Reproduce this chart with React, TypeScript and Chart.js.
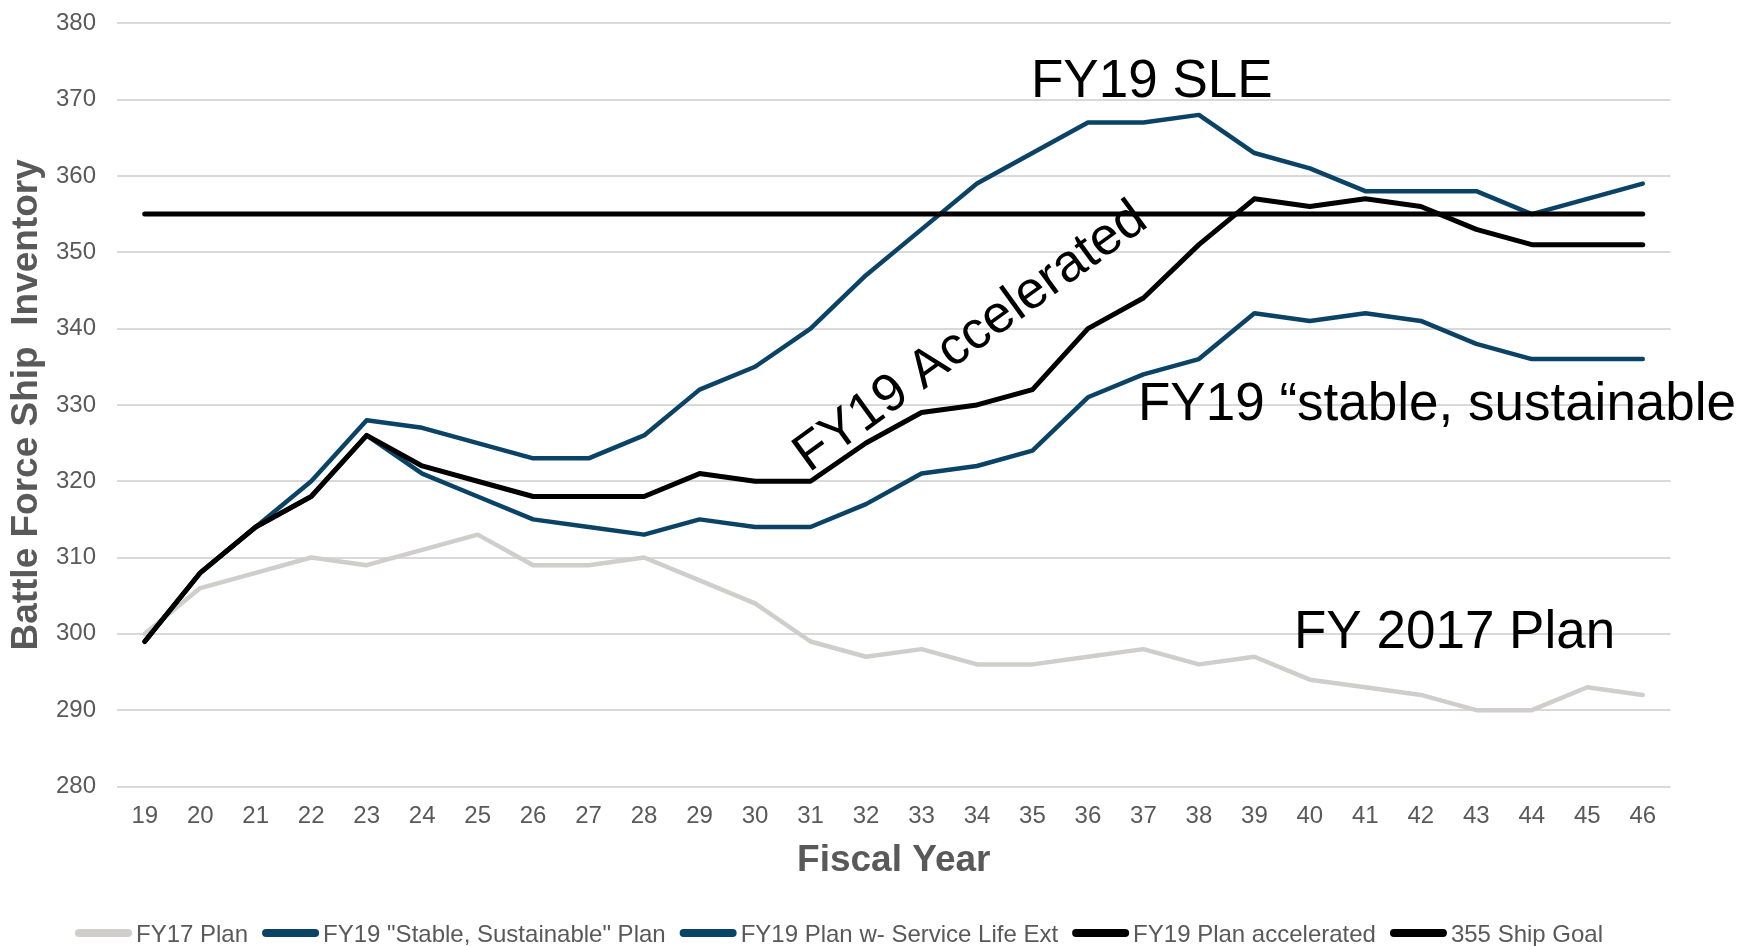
import React, { useEffect, useRef } from "react";
import { Chart, registerables } from "chart.js";

Chart.register(...registerables);

const fiscalYears = ["19", "20", "21", "22", "23", "24", "25", "26", "27", "28", "29", "30", "31", "32", "33", "34", "35", "36", "37", "38", "39", "40", "41", "42", "43", "44", "45", "46"];

const fy17Plan = [300, 306, 308, 310, 309, 311, 313, 309, 309, 310, 307, 304, 299, 297, 298, 296, 296, 297, 298, 296, 297, 294, 293, 292, 290, 290, 293, 292];
const fy19Stable = [299, 308, 314, 318, 326, 321, 318, 315, 314, 313, 315, 314, 314, 317, 321, 322, 324, 331, 334, 336, 342, 341, 342, 341, 338, 336, 336, 336];
const fy19SLE = [299, 308, 314, 320, 328, 327, 325, 323, 323, 326, 332, 335, 340, 347, 353, 359, 363, 367, 367, 368, 363, 361, 358, 358, 358, 355, 357, 359];
const fy19Accelerated = [299, 308, 314, 318, 326, 322, 320, 318, 318, 318, 321, 320, 320, 325, 329, 330, 332, 340, 344, 351, 357, 356, 357, 356, 353, 351, 351, 351];
const goal355 = [355, 355, 355, 355, 355, 355, 355, 355, 355, 355, 355, 355, 355, 355, 355, 355, 355, 355, 355, 355, 355, 355, 355, 355, 355, 355, 355, 355];

const seriesLabels = ["FY17 Plan", "FY19 \"Stable, Sustainable\" Plan", "FY19 Plan w- Service Life Ext", "FY19 Plan accelerated", "355 Ship Goal"];

const FONT = '"Liberation Sans", Arial, sans-serif';
const GREY_TEXT = "#595959";
const BLUE = "#0a4365";

const legendPlugin = {
  id: "customLegend",
  afterDraw(chart: any) {
    const ctx = chart.ctx;
    ctx.save();
    ctx.font = `24px ${FONT}`;
    let x = 75;
    const y = 933;
    chart.data.datasets.forEach((ds: any) => {
      ctx.strokeStyle = ds.borderColor;
      ctx.lineWidth = 8;
      ctx.lineCap = "round";
      ctx.beginPath();
      ctx.moveTo(x + 4, y);
      ctx.lineTo(x + 53, y);
      ctx.stroke();
      ctx.fillStyle = GREY_TEXT;
      ctx.textBaseline = "alphabetic";
      ctx.textAlign = "left";
      ctx.fillText(ds.label, x + 61, 942);
      x += 61 + ctx.measureText(ds.label).width + 14;
    });
    ctx.restore();
  },
};

const annotationPlugin = {
  id: "annotations",
  afterDatasetsDraw(chart: any) {
    const ctx = chart.ctx;
    ctx.save();
    ctx.fillStyle = "#000000";
    ctx.font = `53px ${FONT}`;
    ctx.textAlign = "left";
    ctx.textBaseline = "alphabetic";
    ctx.fillText("FY19 SLE", 1031, 97);
    ctx.fillText("FY 2017 Plan", 1294, 648);
    ctx.fillText("FY19 \u201Cstable, sustainable", 1138, 420);
    ctx.translate(809, 473);
    ctx.rotate((-36 * Math.PI) / 180);
    ctx.fillText("FY19 Accelerated", 0, 0);
    ctx.restore();
  },
};

export default function App() {
  const canvasRef = useRef<HTMLCanvasElement | null>(null);

  useEffect(() => {
    document.body.style.margin = "0";
    const canvas = canvasRef.current;
    if (!canvas) return;
    const lineDs = (label: string, data: number[], color: string, width: number, order: number) => ({
      label,
      data,
      borderColor: color,
      backgroundColor: color,
      borderWidth: width,
      pointRadius: 0,
      tension: 0,
      fill: false,
      borderCapStyle: "round" as const,
      borderJoinStyle: "round" as const,
      order,
    });
    const chart = new Chart(canvas, {
      type: "line",
      data: {
        labels: fiscalYears,
        datasets: [
          lineDs(seriesLabels[0], fy17Plan, "#d0cecb", 4.5, 5),
          lineDs(seriesLabels[1], fy19Stable, BLUE, 4.5, 4),
          lineDs(seriesLabels[2], fy19SLE, BLUE, 4.5, 3),
          lineDs(seriesLabels[3], fy19Accelerated, "#000000", 5, 2),
          lineDs(seriesLabels[4], goal355, "#000000", 5, 1),
        ],
      },
      options: {
        responsive: false,
        animation: false,
        devicePixelRatio: 1,
        layout: { padding: { top: 23.3, right: 73.5, bottom: 0, left: 0 } },
        plugins: {
          legend: { display: false },
          tooltip: { enabled: false },
        },
        scales: {
          x: {
            type: "category",
            offset: true,
            grid: { display: false, drawTicks: false },
            border: { display: false },
            ticks: {
              color: GREY_TEXT,
              font: { family: FONT, size: 24 },
              padding: 15.5,
              maxRotation: 0,
              autoSkip: false,
            },
            title: {
              display: true,
              text: "Fiscal Year",
              color: GREY_TEXT,
              font: { family: FONT, size: 37, weight: "bold" },
              padding: { top: 0, bottom: 63.5 },
            },
            afterFit: (scale: any) => {
              scale.height = 159.5;
            },
          },
          y: {
            min: 280,
            max: 380,
            grid: { color: "#d9d9d9", lineWidth: 2, drawTicks: true, tickLength: 21, tickColor: "rgba(0,0,0,0)" },
            border: { display: false },
            ticks: {
              stepSize: 10,
              color: GREY_TEXT,
              font: { family: FONT, size: 24 },
              padding: 0,
            },
            title: {
              display: true,
              text: "Battle Force Ship  Inventory",
              color: GREY_TEXT,
              font: { family: FONT, size: 37, weight: "bold" },
              padding: { top: 4.3, bottom: 0 },
            },
            afterFit: (scale: any) => {
              scale.width = 117;
            },
          },
        },
      },
      plugins: [annotationPlugin, legendPlugin],
    } as any);
    return () => chart.destroy();
  }, []);

  return (
    <div style={{ position: "fixed", left: 0, top: 0, width: 1744, height: 946, background: "#ffffff" }}>
      <canvas ref={canvasRef} width={1744} height={946} style={{ width: 1744, height: 946, display: "block" }} />
    </div>
  );
}
